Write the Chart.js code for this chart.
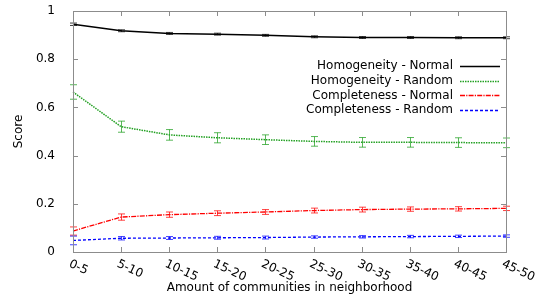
<!DOCTYPE html>
<html>
<head>
<meta charset="utf-8">
<script src="https://cdn.jsdelivr.net/npm/chart.js@4.4.1/dist/chart.umd.min.js"></script>
<style>
  html, body { margin: 0; padding: 0; background: #fff; }
  #wrap { width: 549px; height: 299px; position: relative; }
</style>
</head>
<body>
<div id="wrap"><canvas id="chart"></canvas></div>
<script>
// categories on the x axis
const categories = ['0-5', '5-10', '10-15', '15-20', '20-25', '25-30', '30-35', '35-40', '40-45', '45-50'];

// series values + their error bars
const homNormal   = [0.945, 0.918, 0.907, 0.904, 0.899, 0.893, 0.890, 0.890, 0.889, 0.889];
const homNormalErr = [0.005, 0.004, 0.004, 0.004, 0.004, 0.004, 0.004, 0.004, 0.004, 0.004];
const homRandom   = [0.664, 0.520, 0.486, 0.474, 0.466, 0.459, 0.455, 0.455, 0.454, 0.453];
const homRandomErr = [0.030, 0.023, 0.022, 0.021, 0.020, 0.020, 0.020, 0.020, 0.020, 0.020];
const compNormal  = [0.087, 0.145, 0.155, 0.161, 0.166, 0.172, 0.176, 0.178, 0.179, 0.181];
const compNormalErr = [0.017, 0.013, 0.011, 0.010, 0.010, 0.010, 0.010, 0.009, 0.009, 0.009];
const compRandom  = [0.048, 0.057, 0.058, 0.059, 0.060, 0.062, 0.063, 0.064, 0.065, 0.066];
const compRandomErr = [0.018, 0.007, 0.006, 0.006, 0.006, 0.005, 0.005, 0.005, 0.005, 0.005];

const yTicks = [0, 0.2, 0.4, 0.6, 0.8, 1];

const FONT = 'DejaVu Sans, sans-serif';
const BORDER = '#8c8c8c';

function series(label, data, err, color, dash, width) {
    return {
        label: label,
        data: data,
        errors: err,
        borderColor: color,
        backgroundColor: color,
        borderWidth: width,
        borderDash: dash,
        pointRadius: 0,
        pointHoverRadius: 0,
        fill: false,
        tension: 0
    };
}

// error bars, axis box with inward ticks, rotated x labels, legend
const gnuplotLook = {
    id: 'gnuplotLook',
    afterDatasetsDraw(chart) {
        const ctx = chart.ctx;
        const xs = chart.scales.x, ys = chart.scales.y;
        ctx.save();
        chart.data.datasets.forEach(ds => {
            ctx.strokeStyle = ds.borderColor;
            ctx.globalAlpha = 0.75;
            ctx.lineWidth = 1;
            ctx.setLineDash([]);
            ds.data.forEach((v, i) => {
                const x = Math.round(xs.getPixelForValue(i)) + 0.5;
                const y1 = ys.getPixelForValue(v + ds.errors[i]);
                const y2 = ys.getPixelForValue(v - ds.errors[i]);
                ctx.beginPath();
                ctx.moveTo(x, y1); ctx.lineTo(x, y2);
                ctx.moveTo(x - 3.5, y1); ctx.lineTo(x + 3.5, y1);
                ctx.moveTo(x - 3.5, y2); ctx.lineTo(x + 3.5, y2);
                ctx.stroke();
            });
        });
        ctx.restore();
    },
    afterDraw(chart) {
        const ctx = chart.ctx;
        const a = chart.chartArea;
        const xs = chart.scales.x, ys = chart.scales.y;
        ctx.save();

        // border box
        ctx.strokeStyle = BORDER;
        ctx.lineWidth = 1;
        ctx.strokeRect(Math.round(a.left) + 0.5, Math.round(a.top) + 0.5,
                       Math.round(a.right - a.left), Math.round(a.bottom - a.top));

        // inward ticks on all four sides
        ctx.beginPath();
        categories.forEach((c, i) => {
            const x = Math.round(xs.getPixelForValue(i)) + 0.5;
            ctx.moveTo(x, a.bottom); ctx.lineTo(x, a.bottom - 5);
            ctx.moveTo(x, a.top); ctx.lineTo(x, a.top + 5);
        });
        yTicks.forEach(t => {
            const y = Math.round(ys.getPixelForValue(t)) + 0.5;
            ctx.moveTo(a.left, y); ctx.lineTo(a.left + 5, y);
            ctx.moveTo(a.right, y); ctx.lineTo(a.right - 5, y);
        });
        ctx.stroke();

        // rotated category labels
        ctx.fillStyle = '#000';
        ctx.font = '12px ' + FONT;
        ctx.textAlign = 'left';
        ctx.textBaseline = 'top';
        categories.forEach((c, i) => {
            const x = xs.getPixelForValue(i);
            ctx.save();
            ctx.translate(x - 1, a.bottom + 6);
            ctx.rotate(25 * Math.PI / 180);
            ctx.fillText(c, 0, 0);
            ctx.restore();
        });

        // legend: text right-aligned, sample line to the right
        const textRight = a.right - 53;
        const lx1 = a.right - 46, lx2 = a.right - 6;
        ctx.textAlign = 'right';
        ctx.textBaseline = 'middle';
        chart.data.datasets.forEach((ds, i) => {
            const y = a.top + 55 + i * 14.7;
            ctx.fillStyle = '#000';
            ctx.fillText(ds.label, textRight, y);
            ctx.strokeStyle = ds.borderColor;
            ctx.lineWidth = 1.6;
            ctx.setLineDash(ds.borderDash);
            ctx.beginPath();
            ctx.moveTo(lx1, Math.round(y) + 0.5);
            ctx.lineTo(lx2, Math.round(y) + 0.5);
            ctx.stroke();
        });
        ctx.restore();
    }
};

new Chart(document.getElementById('chart').getContext('2d'), {
    type: 'line',
    data: {
        labels: categories,
        datasets: [
            series('Homogeneity - Normal', homNormal, homNormalErr, '#000000', [], 1.5),
            series('Homogeneity - Random', homRandom, homRandomErr, '#22a022', [1.5, 1], 1.5),
            series('Completeness - Normal', compNormal, compNormalErr, '#ff0000', [5, 1.2, 1.2, 1.2], 1.3),
            series('Completeness - Random', compRandom, compRandomErr, '#0000ff', [3, 2], 1.3)
        ]
    },
    options: {
        responsive: true,
        maintainAspectRatio: false,
        animation: false,
        layout: { padding: { top: 11, right: 43, left: 0, bottom: 0 } },
        plugins: {
            legend: { display: false },
            tooltip: { enabled: false }
        },
        scales: {
            x: {
                type: 'category',
                offset: false,
                grid: { display: false },
                border: { display: false },
                ticks: { display: false },
                title: {
                    display: true,
                    text: 'Amount of communities in neighborhood',
                    color: '#000',
                    font: { family: FONT, size: 12 },
                    padding: { top: 0, bottom: 4 }
                },
                afterFit(scale) {
                    scale.height = 47;
                    scale.paddingLeft = 0; scale.paddingRight = 0;
                }
            },
            y: {
                min: 0,
                max: 1,
                grid: { display: false },
                border: { display: false },
                ticks: {
                    stepSize: 0.2,
                    padding: 10,
                    color: '#000',
                    font: { family: FONT, size: 12 },
                    callback: v => String(Math.round(v * 10) / 10)
                },
                title: {
                    display: true,
                    text: 'Score',
                    color: '#000',
                    font: { family: FONT, size: 12 },
                    padding: { top: 12, bottom: 0 }
                },
                afterFit(scale) {
                    scale.width = 73;
                    scale.paddingTop = 0; scale.paddingBottom = 0;
                }
            }
        }
    },
    plugins: [gnuplotLook]
});
</script>
</body>
</html>
